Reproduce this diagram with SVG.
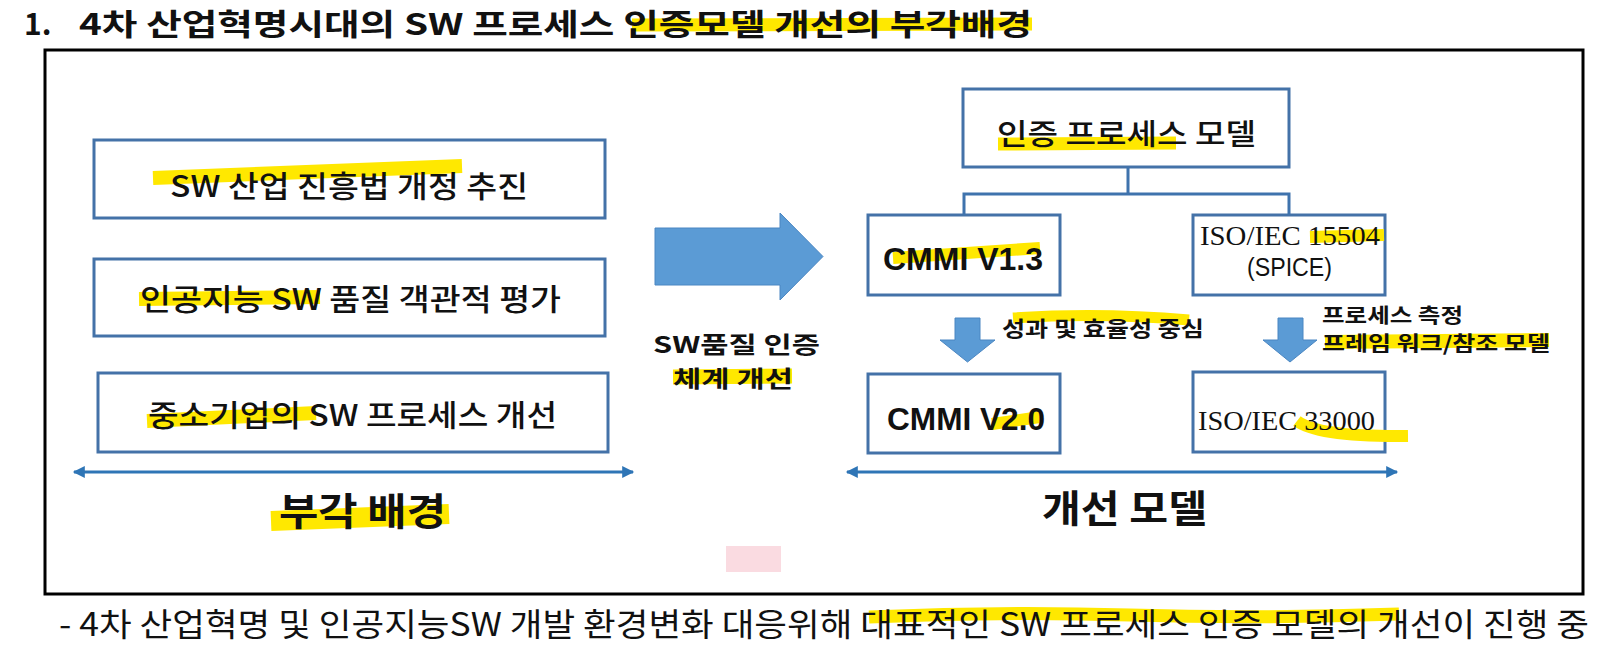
<svg xmlns="http://www.w3.org/2000/svg" width="1607" height="660" viewBox="0 0 1607 660">
<style>
.kr{font-family:"Noto Sans CJK KR","Noto Sans",sans-serif;fill:#111}
.box{fill:#fff;stroke:#4472a8;stroke-width:3}
.hl{fill:none;stroke:#ffe800;stroke-linecap:butt}
.blk{fill:#5b9bd5;stroke:#4a86c2;stroke-width:1}
.con{fill:none;stroke:#3f73ad;stroke-width:3}
.dbl{fill:none;stroke:#2e75b6;stroke-width:3}
.lat{font-family:"Liberation Sans",Arial,sans-serif;fill:#111}
.ser{font-family:"Liberation Serif","Times New Roman",serif;fill:#111}
</style>
<defs>
<marker id="ah" viewBox="0 0 10 10" refX="9" refY="5" markerWidth="14" markerHeight="12" markerUnits="userSpaceOnUse" orient="auto-start-reverse">
<path d="M0,0 L10,5 L0,10 z" fill="#2e75b6"/>
</marker>
</defs>
<rect width="1607" height="660" fill="#fff"/>

<!-- title -->
<g id="title">
<path class="hl" stroke-width="13" d="M632,25 L1032,24"/>
<text class="kr" x="24" y="35" font-size="30" font-weight="bold">1.</text>
<text class="kr" x="79" y="35" font-size="30" font-weight="bold" textLength="953" lengthAdjust="spacingAndGlyphs">4차 산업혁명시대의 SW 프로세스 인증모델 개선의 부각배경</text>
</g>

<!-- frame -->
<rect x="45" y="50" width="1538" height="544" fill="none" stroke="#000" stroke-width="3"/>
<rect x="726" y="546" width="55" height="26" fill="#fadbe1"/>

<!-- left boxes -->
<g id="bg1">
<rect class="box" x="94" y="140" width="511" height="78"/>
<path class="hl" stroke-width="14" d="M153,178 L462,166"/>
<text class="kr" x="170" y="197" font-size="30" font-weight="500" textLength="358" lengthAdjust="spacingAndGlyphs">SW 산업 진흥법 개정 추진</text>
</g>
<g id="bg2">
<rect class="box" x="94" y="259" width="511" height="77"/>
<path class="hl" stroke-width="14" d="M139,299 L320,297"/>
<text class="kr" x="140" y="310" font-size="30" font-weight="500" textLength="421" lengthAdjust="spacingAndGlyphs">인공지능 SW 품질 객관적 평가</text>
</g>
<g id="bg3">
<rect class="box" x="98" y="373" width="510" height="79"/>
<path class="hl" stroke-width="14" d="M147,421 L316,413"/>
<text class="kr" x="148" y="426" font-size="30" font-weight="500" textLength="409" lengthAdjust="spacingAndGlyphs">중소기업의 SW 프로세스 개선</text>
</g>

<g id="label-bg">
<path class="hl" stroke-width="20" d="M271,521 L449,514"/>
<text class="kr" x="279" y="525" font-size="38" font-weight="bold" textLength="167" lengthAdjust="spacingAndGlyphs">부각 배경</text>
</g>

<!-- big arrow -->
<g id="big-arrow">
<polygon class="blk" points="655,228 780,228 780,213 823,256.5 780,300 780,285 655,285"/>
<path class="hl" stroke-width="15" d="M673,377 L792,376"/>
<text class="kr" x="653" y="353" font-size="23" font-weight="bold" textLength="167" lengthAdjust="spacingAndGlyphs">SW품질 인증</text>
<text class="kr" x="673" y="387" font-size="23" font-weight="bold" textLength="120" lengthAdjust="spacingAndGlyphs">체계 개선</text>
</g>

<!-- right side -->
<g id="model-root">
<rect class="box" x="963" y="89" width="326" height="78"/>
<path class="hl" stroke-width="13" d="M998,144 L1176,143"/>
<text class="kr" x="997" y="145" font-size="29" font-weight="500" textLength="259" lengthAdjust="spacingAndGlyphs">인증 프로세스 모델</text>
</g>
<g id="cmmi13">
<rect class="box" x="868" y="215" width="192" height="80"/>
<path class="hl" stroke-width="12" d="M893,258 L1040,248"/>
<text class="lat" x="883" y="270" font-size="32" font-weight="bold" textLength="160" lengthAdjust="spacingAndGlyphs">CMMI V1.3</text>
</g>
<g id="iso15504">
<rect class="box" x="1193" y="215" width="192" height="80"/>
<path class="hl" stroke-width="12" d="M1310,237 L1384,235"/>
<text class="ser" x="1200" y="245" font-size="28" textLength="180" lengthAdjust="spacingAndGlyphs">ISO/IEC 15504</text>
<text class="lat" x="1247" y="276" font-size="26" textLength="85" lengthAdjust="spacingAndGlyphs">(SPICE)</text>
</g>
<g id="cmmi20">
<rect class="box" x="868" y="374" width="192" height="79"/>
<path class="hl" stroke-width="12" d="M992,424 L1040,417"/>
<text class="lat" x="887" y="430" font-size="32" font-weight="bold" textLength="158" lengthAdjust="spacingAndGlyphs">CMMI V2.0</text>
</g>
<g id="iso33000">
<rect class="box" x="1193" y="372" width="192" height="80"/>
<path class="hl" stroke-width="12" d="M1297,421 Q1318,437 1408,436"/>
<text class="ser" x="1198" y="430" font-size="28" textLength="177" lengthAdjust="spacingAndGlyphs">ISO/IEC 33000</text>
</g>

<g id="down-arrows">
<polygon class="blk" points="955,318 980,318 980,340 995,340 967.5,362 940,340 955,340"/>
<polygon class="blk" points="1278,318 1303,318 1303,340 1317,340 1290,362 1263,340 1278,340"/>
<path class="hl" stroke-width="11" d="M1013,318 Q1100,312 1189,320"/>
<text class="kr" x="1002" y="336" font-size="21" font-weight="bold" textLength="202" lengthAdjust="spacingAndGlyphs">성과 및 효율성 중심</text>
<path class="hl" stroke-width="14" d="M1325,342 L1549,340"/>
<text class="kr" x="1322" y="323" font-size="20" font-weight="bold" textLength="141" lengthAdjust="spacingAndGlyphs">프로세스 측정</text>
<text class="kr" x="1322" y="351" font-size="20" font-weight="bold" textLength="228" lengthAdjust="spacingAndGlyphs">프레임 워크/참조 모델</text>
</g>

<g id="label-model">
<text class="kr" x="1042" y="522" font-size="38" font-weight="bold" textLength="165" lengthAdjust="spacingAndGlyphs">개선 모델</text>
</g>

<!-- connectors -->
<g id="connectors">
<path class="con" d="M1128,167 L1128,194 M964,215 L964,194 L1289,194 L1289,215"/>
<line class="dbl" x1="74" y1="472" x2="633" y2="472" marker-start="url(#ah)" marker-end="url(#ah)"/>
<line class="dbl" x1="847" y1="472" x2="1397" y2="472" marker-start="url(#ah)" marker-end="url(#ah)"/>
</g>

<!-- footer -->
<g id="footer">
<path class="hl" stroke-width="13" d="M869,617 Q1000,611 1130,615 T1399,614"/>
<text class="kr" x="59" y="636" font-size="32" textLength="1530" lengthAdjust="spacingAndGlyphs">- 4차 산업혁명 및 인공지능SW 개발 환경변화 대응위해 대표적인 SW 프로세스 인증 모델의 개선이 진행 중</text>
</g>
</svg>
